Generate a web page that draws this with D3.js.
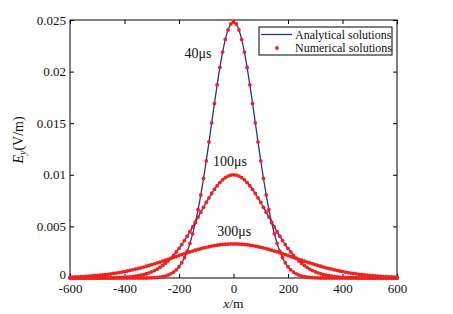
<!DOCTYPE html>
<html>
<head>
<meta charset="utf-8">
<script src="https://cdn.jsdelivr.net/npm/d3@7"></script>
<style>
  body { margin: 0; background: #fff; }
  svg text { font-family: "Liberation Serif", "Times New Roman", serif; fill: #111; }
  .axis path { display: none; }
  .axis line { stroke: #000; }
</style>
</head>
<body>
<svg id="chart" width="453" height="314"></svg>
<script>
// x grid of the computed points (m)
const xPoints = [
  -600,-590,-580,-570,-560,-550,-540,-530,-520,-510,-500,-490,-480,-470,-460,-450,-440,-430,-420,-410,
  -400,-390,-380,-370,-360,-350,-340,-330,-320,-310,-300,-290,-280,-270,-260,-250,-240,-230,-220,-210,
  -200,-190,-180,-170,-160,-150,-140,-130,-120,-110,-100,-90,-80,-70,-60,-50,-40,-30,-20,-10,
  0,10,20,30,40,50,60,70,80,90,100,110,120,130,140,150,160,170,180,190,
  200,210,220,230,240,250,260,270,280,290,300,310,320,330,340,350,360,370,380,390,
  400,410,420,430,440,450,460,470,480,490,500,510,520,530,540,550,560,570,580,590,600
];

// Ey values in mV/m
const ey40 = [
  0,0,0,0,0,0,0,0,0,0,0,0,0,0,0,0,0,0,0,0,
  0,0,0,0,0,0,0,0,0,0.01,0.02,0.03,0.05,0.08,0.13,0.19,0.28,0.40,0.57,0.79,
  1.09,1.48,1.97,2.59,3.36,4.28,5.36,6.62,8.05,9.64,11.35,13.17,15.04,16.91,18.72,20.40,21.89,23.12,24.04,24.61,
  24.80,24.61,24.04,23.12,21.89,20.40,18.72,16.91,15.04,13.17,11.35,9.64,8.05,6.62,5.36,4.28,3.36,2.59,1.97,1.48,
  1.09,0.79,0.57,0.40,0.28,0.19,0.13,0.08,0.05,0.03,0.02,0.01,0,0,0,0,0,0,0,0,
  0,0,0,0,0,0,0,0,0,0,0,0,0,0,0,0,0,0,0,0,0
];
const ey100 = [
  0,0,0,0,0,0,0,0,0,0,0,0,0.01,0.01,0.01,0.02,0.02,0.03,0.04,0.05,
  0.07,0.09,0.11,0.14,0.17,0.22,0.27,0.33,0.41,0.50,0.60,0.72,0.86,1.02,1.21,1.42,1.65,1.91,2.20,2.52,
  2.87,3.24,3.63,4.05,4.49,4.95,5.42,5.90,6.38,6.85,7.32,7.76,8.19,8.58,8.94,9.25,9.51,9.72,9.88,9.97,
  10.00,9.97,9.88,9.72,9.51,9.25,8.94,8.58,8.19,7.76,7.32,6.85,6.38,5.90,5.42,4.95,4.49,4.05,3.63,3.24,
  2.87,2.52,2.20,1.91,1.65,1.42,1.21,1.02,0.86,0.72,0.60,0.50,0.41,0.33,0.27,0.22,0.17,0.14,0.11,0.09,
  0.07,0.05,0.04,0.03,0.02,0.02,0.01,0.01,0.01,0,0,0,0,0,0,0,0,0,0,0,0
];
const ey300 = [
  0.08,0.09,0.10,0.11,0.13,0.14,0.16,0.18,0.20,0.22,0.24,0.27,0.30,0.33,0.36,0.40,0.44,0.48,0.53,0.57,
  0.62,0.68,0.73,0.79,0.86,0.92,0.99,1.06,1.14,1.21,1.29,1.37,1.46,1.54,1.63,1.72,1.81,1.90,1.99,2.08,
  2.18,2.27,2.35,2.44,2.53,2.61,2.69,2.77,2.84,2.91,2.97,3.03,3.09,3.14,3.18,3.22,3.25,3.27,3.29,3.30,
  3.30,3.30,3.29,3.27,3.25,3.22,3.18,3.14,3.09,3.03,2.97,2.91,2.84,2.77,2.69,2.61,2.53,2.44,2.35,2.27,
  2.18,2.08,1.99,1.90,1.81,1.72,1.63,1.54,1.46,1.37,1.29,1.21,1.14,1.06,0.99,0.92,0.86,0.79,0.73,0.68,
  0.62,0.57,0.53,0.48,0.44,0.40,0.36,0.33,0.30,0.27,0.24,0.22,0.20,0.18,0.16,0.14,0.13,0.11,0.10,0.09,0.08
];

const curveNames = ["40\u03bcs", "100\u03bcs", "300\u03bcs"];
const xTicks = [-600, -400, -200, 0, 200, 400, 600];
const yTicks = [0, 0.005, 0.01, 0.015, 0.02, 0.025];
const yTickLabels = ["0", "0.005", "0.01", "0.015", "0.02", "0.025"];

const serif = '"Liberation Serif", "Times New Roman", serif';
const svg = d3.select("svg#chart");
const margin = {top: 20, right: 56, bottom: 36, left: 70};
const width = 453 - margin.left - margin.right;
const height = 314 - margin.top - margin.bottom;

const xScale = d3.scaleLinear().domain([-600, 600]).range([0, width]);
const yScale = d3.scaleLinear().domain([0, 0.025]).range([height, 0]);

let plot = svg.append("g")
  .attr("transform", `translate(${margin.left},${margin.top})`);

// axes, ticks pointing inward
plot.append("g").attr("class", "axis")
  .attr("transform", `translate(0,${height})`)
  .call(d3.axisBottom(xScale).tickValues(xTicks).tickSize(-4).tickPadding(5.5).tickFormat(d => d))
  .attr("font-family", serif).attr("font-size", 13)
  .selectAll("text").attr("fill", "#111");
plot.append("g").attr("class", "axis")
  .call(d3.axisTop(xScale).tickValues(xTicks).tickSize(-4).tickFormat(""));
let leftAxis = plot.append("g").attr("class", "axis")
  .call(d3.axisLeft(yScale).tickValues(yTicks).tickSize(-4).tickPadding(4)
    .tickFormat((d, i) => yTickLabels[i]))
  .attr("font-family", serif).attr("font-size", 13);
leftAxis.selectAll("text").attr("fill", "#111");
// lift the zero label a touch so it clears the -600 below it
leftAxis.selectAll("text").filter(d => d === 0).attr("dy", "0em");
plot.append("g").attr("class", "axis")
  .attr("transform", `translate(${width},0)`)
  .call(d3.axisRight(yScale).tickValues(yTicks).tickSize(-4).tickFormat(""));

plot.append("rect")
  .attr("width", width).attr("height", height)
  .attr("fill", "none").attr("stroke", "#000").attr("stroke-width", 1);

// curves
const series = [ey40, ey100, ey300].map(vals =>
  vals.map((v, i) => ({x: xPoints[i], y: v / 1000})));

const lineGen = d3.line()
  .x(d => xScale(d.x))
  .y(d => yScale(d.y))
  .curve(d3.curveMonotoneX);

plot.selectAll("path.analytic").data(series)
  .join("path")
  .attr("class", "analytic")
  .attr("d", d => lineGen(d))
  .attr("fill", "none")
  .attr("stroke", "#2a2f9a")
  .attr("stroke-width", 1.3);

plot.selectAll("g.numeric").data(series)
  .join("g")
  .attr("class", "numeric")
  .selectAll("circle").data(d => d)
  .join("circle")
  .attr("cx", d => xScale(d.x))
  .attr("cy", d => yScale(d.y))
  .attr("r", 1.9)
  .attr("fill", "#f0211e");

// curve labels
const labelPos = [[-180, 0.0213], [-75, 0.0109], [-60, 0.0041]];
plot.selectAll("text.curve-label").data(curveNames)
  .join("text")
  .attr("class", "curve-label")
  .attr("x", (d, i) => xScale(labelPos[i][0]))
  .attr("y", (d, i) => yScale(labelPos[i][1]))
  .style("font-size", "14px")
  .text(d => d);

// axis titles
svg.append("text")
  .attr("x", margin.left + width / 2)
  .attr("y", 308)
  .attr("text-anchor", "middle")
  .style("font-size", "13.5px")
  .html('<tspan font-style="italic">x</tspan>/m');

let yTitle = svg.append("text")
  .attr("transform", "translate(23,140) rotate(-90)")
  .attr("text-anchor", "middle")
  .style("font-size", "14px");
yTitle.append("tspan").attr("font-style", "italic").text("E");
yTitle.append("tspan").attr("font-style", "italic").attr("font-size", "10px").attr("dy", 3).text("y");
yTitle.append("tspan").attr("dy", -3).text("(V/m)");

// legend
let legend = svg.append("g").attr("transform", "translate(259,27)");
legend.append("rect")
  .attr("width", 133).attr("height", 28)
  .attr("fill", "#fff").attr("stroke", "#000").attr("stroke-width", 1);
legend.append("line")
  .attr("x1", 2).attr("x2", 33).attr("y1", 7.5).attr("y2", 7.5)
  .attr("stroke", "#2a2f9a").attr("stroke-width", 1.3);
legend.append("circle")
  .attr("cx", 18).attr("cy", 21).attr("r", 1.9).attr("fill", "#f0211e");
legend.append("text").attr("x", 36).attr("y", 11.5)
  .style("font-size", "12px").text("Analytical solutions");
legend.append("text").attr("x", 36).attr("y", 25)
  .style("font-size", "12px").text("Numerical solutions");
</script>
</body>
</html>
